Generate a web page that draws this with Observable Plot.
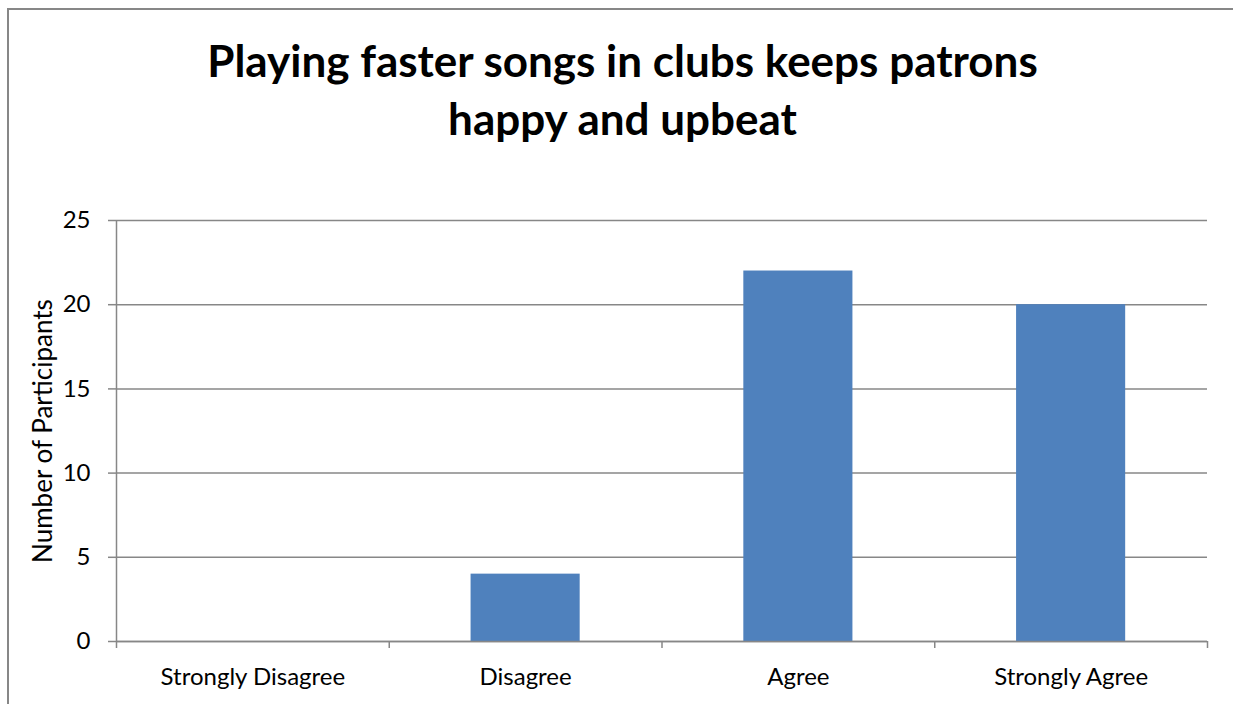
<!DOCTYPE html>
<html>
<head>
<meta charset="utf-8">
<script src="https://cdn.jsdelivr.net/npm/d3@7"></script>
<script src="https://cdn.jsdelivr.net/npm/@observablehq/plot@0.6"></script>
<style>
  html, body { margin: 0; padding: 0; background: #fff; overflow: hidden; width: 1233px; height: 704px; }
  #frame { position: absolute; left: 7px; top: 8px; width: 1400px; height: 900px; border-left: 2px solid #878787; border-top: 2px solid #878787; pointer-events: none; }
  #wrap { position: absolute; left: 0; top: 0; width: 1233px; }
  #title { height: 200px; box-sizing: border-box; padding-top: 31px; text-align: center; padding-left: 12px;
           font-family: Lato, "Open Sans", sans-serif; font-weight: bold; font-size: 44px; line-height: 58px; color: #000; }
  svg { display: block; }
</style>
</head>
<body>
<div id="wrap">
  <div id="title">Playing faster songs in clubs keeps patrons<br>happy and upbeat</div>
  <div id="chart"></div>
</div>
<div id="frame"></div>
<script>
const categories = ["Strongly Disagree", "Disagree", "Agree", "Strongly Agree"];
const values = [0, 4, 22, 20];
const yTicks = [0, 5, 10, 15, 20, 25];
const yLabel = "Number of Participants";

const data = categories.map((c, i) => ({category: c, index: i, value: values[i]}));
const boundaries = d3.range(categories.length + 1);
const centers = categories.map((c, i) => i + 0.5);

const font = "Lato, 'Open Sans', sans-serif";
const plot = Plot.plot({
  width: 1233,
  height: 504,
  marginLeft: 116,
  marginRight: 26,
  marginTop: 20,
  marginBottom: 63,
  style: {fontFamily: font, fontSize: "24px", color: "#000", background: "#fff"},
  x: {domain: [0, categories.length], axis: null},
  y: {domain: [0, 25], axis: null},
  marks: [
    Plot.gridY(yTicks, {stroke: "#878787", strokeOpacity: 1, strokeWidth: 1.5}),
    Plot.rectY(data, {x1: d => d.index + 0.3, x2: d => d.index + 0.7, y1: 0, y2: "value", fill: "#4F81BD"}),
    Plot.axisY({ticks: yTicks, tickSize: 8, tickPadding: 18, stroke: "#878787", strokeWidth: 1.5, fontSize: 24, label: null}),
    Plot.ruleX([0], {stroke: "#878787", strokeWidth: 1.5}),
    Plot.ruleY([0], {stroke: "#878787", strokeWidth: 1.5}),
    Plot.axisX({ticks: boundaries, tickSize: 7, tickFormat: () => "", stroke: "#878787", strokeWidth: 1.5, label: null}),
    Plot.axisX({ticks: centers, tickSize: 0, tickPadding: 26, tickFormat: v => categories[Math.floor(v)], fontSize: 24, label: null}),
    Plot.text([yLabel], {frameAnchor: "left", textAnchor: "middle", dx: -73, rotate: -90, fontSize: 26, fill: "#000"})
  ]
});
document.getElementById("chart").appendChild(plot);
</script>
</body>
</html>
